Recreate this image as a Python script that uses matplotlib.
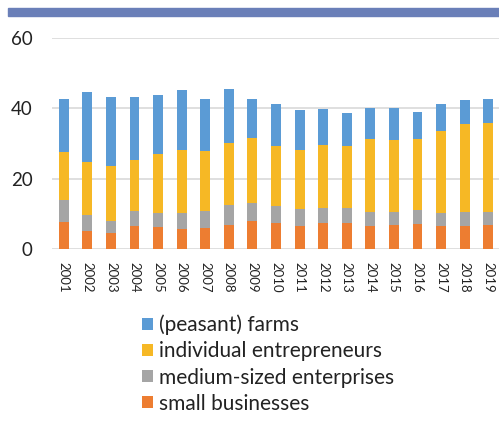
import numpy as np
import matplotlib.pyplot as plt
from matplotlib.patches import Rectangle

plt.rcParams['font.family'] = ['Lato', 'DejaVu Sans']

years = [str(y) for y in range(2001, 2020)]

# cumulative levels read per year (stack tops)
small_top = [7.8, 5.2, 4.6, 6.5, 6.3, 5.6, 5.9, 6.8, 8.1, 7.3, 6.5, 7.3, 7.3, 6.5, 6.7, 7.2, 6.5, 6.5, 6.9]
medium_top = [13.9, 9.7, 8.0, 10.8, 10.3, 10.3, 10.9, 12.5, 13.1, 12.3, 11.3, 11.7, 11.7, 10.6, 10.6, 11.1, 10.2, 10.6, 10.6]
indiv_top = [27.5, 24.8, 23.7, 25.3, 26.9, 28.1, 27.9, 30.2, 31.7, 29.3, 28.1, 29.5, 29.3, 31.4, 31.0, 31.4, 33.5, 35.5, 35.9]
total = [42.6, 44.6, 43.2, 43.2, 43.8, 45.2, 42.6, 45.5, 42.6, 41.2, 39.5, 39.8, 38.6, 40.0, 40.0, 39.0, 41.2, 42.3, 42.6]

small = np.array(small_top)
medium = np.array(medium_top) - small
indiv = np.array(indiv_top) - np.array(medium_top)
farms = np.array(total) - np.array(indiv_top)

fig = plt.figure(figsize=(4.99, 4.21), dpi=100)
# blue band across the top
fig.patches.append(Rectangle((8 / 499, 1 - 16 / 421), 1, 8 / 421,
                             transform=fig.transFigure, color='#6a7fb8', zorder=0))

ax = fig.add_axes([52 / 499, 1 - 249 / 421, 448 / 499, 211 / 421])
x = np.arange(len(years))
w = 0.42
b1 = ax.bar(x, small, w, color='#ed7d31', zorder=3)
b2 = ax.bar(x, medium, w, bottom=small, color='#a5a5a5', zorder=3)
b3 = ax.bar(x, indiv, w, bottom=small + medium, color='#f6b825', zorder=3)
b4 = ax.bar(x, farms, w, bottom=small + medium + indiv, color='#5b9bd5', zorder=3)

ax.set_xlim(-0.5, len(years) - 0.5)
ax.set_ylim(0, 60)
ax.set_yticks([0, 20, 40, 60])
ax.yaxis.grid(True, color='#d9d9d9', linewidth=1.2, zorder=0)
for s in ax.spines.values():
    s.set_visible(False)
ax.tick_params(axis='both', length=0)
ax.tick_params(axis='y', labelsize=13.5, colors='#222222', pad=14)
ax.set_xticks(x)
ax.set_xticklabels(years, rotation=-90, fontsize=9.5, color='#222222')
ax.tick_params(axis='x', pad=9)

fig.legend([b4, b3, b2, b1],
           ['(peasant) farms', 'individual entrepreneurs',
            'medium-sized enterprises', 'small businesses'],
           loc='upper left', bbox_to_anchor=(132 / 499, 1 - 304 / 421),
           frameon=False, fontsize=15, handlelength=0.5, handleheight=0.5,
           handletextpad=0.3, labelspacing=0.3, borderpad=0, labelcolor='#222222')

fig.savefig('out.png', dpi=100)
